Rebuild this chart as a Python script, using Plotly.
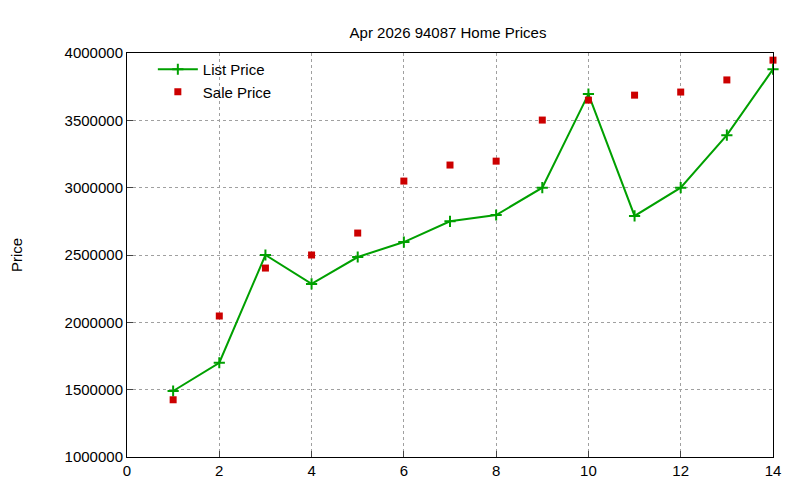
import plotly.graph_objects as go

x = list(range(1, 15))
list_price = [1490000, 1700000, 2500000, 2285000, 2485000, 2596000, 2750000, 2797000,
              3000000, 3695000, 2790000, 3000000, 3390000, 3880000]
sale_price = [1425000, 2047000, 2403000, 2500000, 2663000, 3049000, 3168000, 3197000,
              3502000, 3650000, 3687000, 3710000, 3800000, 3947000]

fig = go.Figure()
fig.add_trace(go.Scatter(x=x, y=list_price, name="List Price", mode="lines+markers",
                         line=dict(color="#00a000", width=2),
                         marker=dict(symbol="cross-thin", size=8, line=dict(color="#00a000", width=2)),
                         cliponaxis=False))
fig.add_trace(go.Scatter(x=x, y=sale_price, name="Sale Price", mode="markers",
                         marker=dict(symbol="square", size=7, color="#cc0000"),
                         cliponaxis=False))
grid = dict(showgrid=True, gridcolor="#a0a0a0", griddash="dot", gridwidth=1,
            showline=True, linecolor="black", mirror=True, ticks="inside", ticklen=6,
            zeroline=False, automargin=False, tickfont=dict(size=15, color="black"))
fig.update_layout(
    width=800, height=480, plot_bgcolor="white", paper_bgcolor="white",
    font=dict(family="Liberation Sans, Arial", color="black"),
    title=dict(text="Apr 2026 94087 Home Prices", x=0.55, y=0.96, xanchor="center",
               font=dict(size=15)),
    margin=dict(l=119, r=35, t=45, b=31),
    xaxis=dict(range=[0, 14], dtick=2, **grid),
    yaxis=dict(range=[1000000, 4000000], dtick=500000, tickformat="d",
               title=dict(text="Price", font=dict(size=15), standoff=40), **grid),
    legend=dict(x=0.04, y=1.0, xanchor="left", yanchor="top", bgcolor="rgba(0,0,0,0)",
                font=dict(size=15), itemwidth=40, tracegroupgap=0),
)
fig.write_html("out.html")
